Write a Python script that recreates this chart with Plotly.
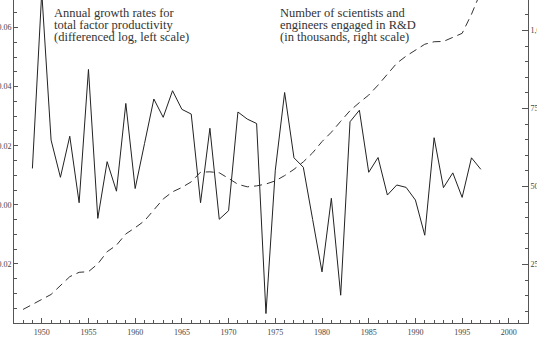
import plotly.graph_objects as go

# ---- data ----
years_tfp = list(range(1949, 1998))
tfp_growth = [0.0123, 0.0720, 0.0219, 0.0093, 0.0232, 0.0007, 0.0458, -0.0046, 0.0146, 0.0046,
              0.0343, 0.0055, 0.0207, 0.0358, 0.0296, 0.0386, 0.0323, 0.0307, 0.0007, 0.0259,
              -0.0049, -0.0020, 0.0314, 0.0290, 0.0275, -0.0368, 0.0117, 0.0380, 0.0159, 0.0127,
              -0.0050, -0.0227, 0.0022, -0.0306, 0.0281, 0.0320, 0.0110, 0.0160, 0.0033, 0.0067,
              0.0059, 0.0016, -0.0103, 0.0227, 0.0058, 0.0108, 0.0025, 0.0159, 0.0120]

years_rd = list(range(1948, 1998))
rd_scientists = [106, 121, 138, 154, 184, 211, 225, 227, 252, 291,
                 312, 348, 368, 390, 425, 460, 483, 497, 515, 546,
                 547, 544, 526, 507, 499, 502, 508, 518, 535, 555,
                 579, 608, 644, 674, 709, 743, 769, 793, 825, 861,
                 895, 918, 937, 956, 964, 965, 978, 991, 1052, 1124]

x_tickvals = [1950, 1955, 1960, 1965, 1970, 1975, 1980, 1985, 1990, 1995, 2000]
x_ticktext = ["1950", "1955", "1960", "1965", "1970", "1975", "1980", "1985", "1990", "1995", "2000"]
yl_tickvals = [-0.02, 0.00, 0.02, 0.04, 0.06]
yl_ticktext = ["\u22120.02", "0.00", "0.02", "0.04", "0.06"]
yr_tickvals = [250, 500, 750, 1000]
yr_ticktext = ["250", "500", "750", "1,000"]

label_tfp = ["Annual growth rates for", "total factor productivity", "(differenced log, left scale)"]
label_rd = ["Number of scientists and", "engineers engaged in R&D", "(in thousands, right scale)"]

# ---- figure ----
W, H = 537, 339
ML, MR, MT, MB = 14, 9, 0, 16
PW, PH = W - ML - MR, H - MT - MB

axc = "#555555"
fig = go.Figure()
fig.add_trace(go.Scatter(x=years_rd, y=rd_scientists, yaxis="y2", mode="lines",
                         line=dict(color="#333333", width=1, dash="8px,5px"),
                         hoverinfo="skip"))
fig.add_trace(go.Scatter(x=years_tfp, y=tfp_growth, mode="lines",
                         line=dict(color="#222222", width=1), hoverinfo="skip"))

tickfont = dict(family="Liberation Serif", size=8, color="#444444")

fig.update_layout(
    width=W, height=H,
    margin=dict(l=ML, r=MR, t=MT, b=MB, pad=0),
    paper_bgcolor="white", plot_bgcolor="white",
    showlegend=False,
    font=dict(family="Liberation Serif", color="#333333"),
    xaxis=dict(range=[1947.03, 2002.05], tickmode="array", tickvals=x_tickvals, ticktext=x_ticktext,
               ticks="inside", ticklen=5, tickcolor=axc, tickwidth=1, ticklabelstandoff=1,
               showline=True, linecolor=axc, linewidth=1, showgrid=False, zeroline=False,
               tickfont=tickfont, automargin=False,
               minor=dict(tickmode="linear", tick0=1947, dtick=1, ticks="inside", ticklen=3,
                          tickcolor=axc, showgrid=False)),
    yaxis=dict(range=[-0.04, 0.0693], tickmode="array", tickvals=yl_tickvals, ticktext=yl_ticktext,
               ticks="inside", ticklen=4, tickcolor=axc, tickwidth=1,
               showline=True, linecolor=axc, linewidth=1, showgrid=False, zeroline=False,
               tickfont=tickfont, automargin=False,
               minor=dict(tickmode="linear", tick0=0, dtick=0.005, ticks="inside", ticklen=3,
                          tickcolor=axc, showgrid=False)),
    yaxis2=dict(overlaying="y", side="right", anchor="x", range=[62.5, 1097.8],
                tickmode="array", tickvals=yr_tickvals, ticktext=yr_ticktext,
                ticks="inside", ticklen=6, tickcolor=axc, tickwidth=1,
                showline=True, linecolor=axc, linewidth=1, showgrid=False, zeroline=False,
                tickfont=tickfont, automargin=False,
                minor=dict(tickmode="linear", tick0=0, dtick=50, ticks="inside", ticklen=3,
                           tickcolor=axc, showgrid=False)),
)

def add_block(lines, px, py0, step):
    for i, t in enumerate(lines):
        fig.add_annotation(text=t, xref="paper", yref="paper",
                           x=(px - ML) / PW, y=1 - (py0 + i * step - MT) / PH,
                           xanchor="left", yanchor="middle", showarrow=False,
                           font=dict(family="Liberation Serif", size=12.5, color="#333333"))

add_block(label_tfp, 52, 13, 12)
add_block(label_rd, 278, 13, 12)

fig.write_html("out.html")
